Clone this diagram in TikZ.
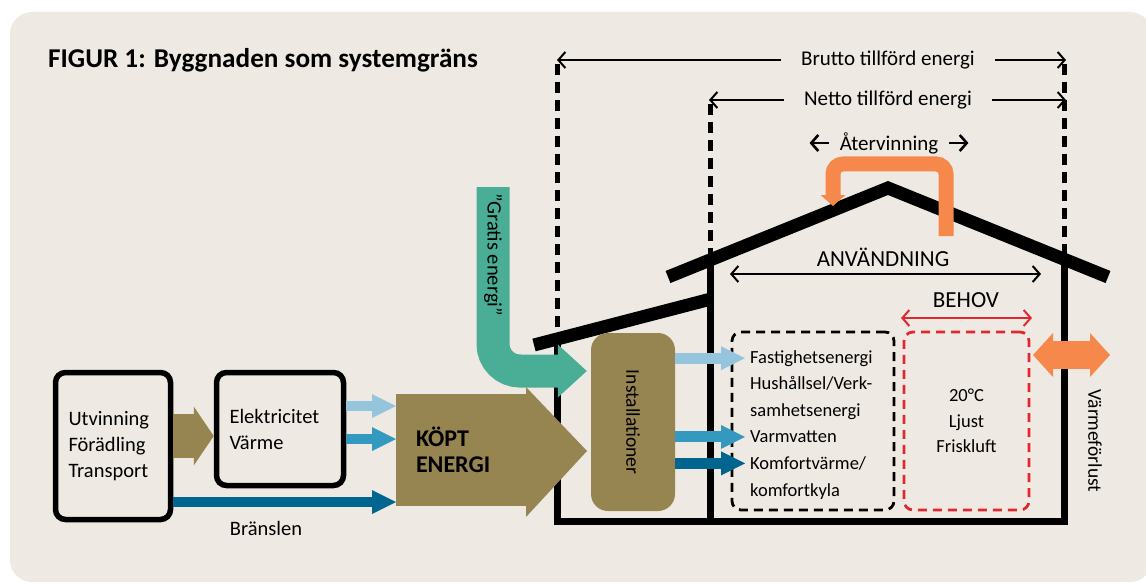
\documentclass[tikz,border=0pt]{standalone}
\usepackage{fontspec}
\setmainfont{Carlito}
\usetikzlibrary{arrows.meta,positioning}

\definecolor{paper}{HTML}{EEEAE3}
\definecolor{olive}{HTML}{978551}
\definecolor{gratis}{HTML}{4AAE97}
\definecolor{heat}{HTML}{F5884A}
\definecolor{blueA}{HTML}{95C5DD}
\definecolor{blueB}{HTML}{3499BF}
\definecolor{blueC}{HTML}{006690}
\definecolor{behovred}{HTML}{E1282F}

\tikzset{
  txt/.style={font=\fontsize{18.5}{25.5}\selectfont, inner sep=0pt},
  chaintxt/.style={font=\fontsize{20.5}{26}\selectfont},
  toptxt/.style={font=\fontsize{21}{24}\selectfont, inner ysep=0pt, inner xsep=20pt},
  captxt/.style={font=\fontsize{23}{24}\selectfont, inner sep=0pt},
  chainbox/.style={draw, line width=5.5pt, rounded corners=10pt, align=left,
    inner xsep=13pt, text width=#1, chaintxt},
  wall/.style={line width=7pt},
  roof/.style={line width=13pt},
  bound/.style={line width=5pt, dash pattern=on 11pt off 7pt},
  dim/.style={line width=2pt},
  feed/.style={line width=10pt, -{Triangle[width=24pt,length=24pt,line width=0pt]}},
  supply/.style={line width=11pt, -{Triangle[width=24pt,length=24pt,line width=0pt]}},
}

\begin{document}
\begin{tikzpicture}[x=1pt, y=-1pt, >={Straight Barb[length=7pt,width=16pt]}]
  \useasboundingbox (0,0) rectangle (1146,583);
  % Background
  \fill[paper, rounded corners=22pt] (10,12) rectangle (1152,582);

  % Title
  \node[anchor=west, inner sep=0pt, font=\bfseries\fontsize{27.2}{29}\selectfont] (title) at (48,60)
    {FIGUR 1: Byggnaden som systemgräns};

  % System boundaries
  \coordinate (bruttoL) at (557,60);
  \coordinate (bruttoR) at (1066,60);
  \coordinate (nettoL) at (709,100);
  \coordinate (nettoR) at (1066,100);
  \draw[bound] (557,64) -- (557,345);
  \draw[bound] (710,104) -- (710,262);
  \draw[bound] (1064,64) -- (1064,262);

  \node[toptxt] (brutto) at (888,60) {Brutto tillförd energi};
  \draw[dim, ->] (brutto.west) -- (bruttoL);
  \draw[dim, ->] (brutto.east) -- (bruttoR);
  \node[toptxt] (netto) at (888,100) {Netto tillförd energi};
  \draw[dim, ->] (netto.west) -- (nettoL);
  \draw[dim, ->] (netto.east) -- (nettoR);

  % Roofs and walls
  \draw[roof] (668,277) -- (888,188) -- (1108,277);
  \draw[roof] (534,345) -- (711,299);
  \draw[wall] (557,339) -- (557,521) -- (1064,521) -- (1064,258);
  \draw[wall] (710,259) -- (710,521);

  % Recovery
  \node[font=\fontsize{21}{24}\selectfont, inner ysep=0pt, inner xsep=11pt] (aterv) at (889,143) {Återvinning};
  \draw[dim, line width=2.6pt, ->] (aterv.west) -- ++(-19,0);
  \draw[dim, line width=2.6pt, ->] (aterv.east) -- ++(19,0);
  \draw[heat, line width=15pt, rounded corners=10pt, -{Triangle[width=25pt,length=11pt,line width=0pt]}]
    (946,236) -- (946,164) -- (833,164) -- (833,206);

  % Use and need
  \node[captxt] (anv) at (883,257) {ANVÄNDNING};
  \coordinate (anvL) at (730,274);
  \coordinate (anvR) at (1041,274);
  \draw[dim, <->] (anvL) -- (anvR);
  \node[captxt] (behov) at (966,300) {BEHOV};
  \coordinate (behovL) at (901,318);
  \coordinate (behovR) at (1032,318);
  \draw[dim, behovred, <->] (behovL) -- (behovR);

  \node[draw, line width=2.8pt, dash pattern=on 9pt off 6pt, rounded corners=9pt,
    minimum width=162, minimum height=178] (use) at (813,421) {};
  \foreach \t [count=\i] in {Fastighetsenergi, Hushållsel/Verk-, samhetsenergi,
      Varmvatten, Komfortvärme/, komfortkyla}
    \node[txt, anchor=base west] (item\i) at (750,{363+(\i-1)*26.6}) {\t};

  \node[draw=behovred, line width=2.8pt, dash pattern=on 9pt off 6pt, rounded corners=9pt,
    minimum width=125, minimum height=178] (need) at (966.5,421) {};
  \node[txt, align=center] (needtxt) at (need.center) {20°C\\Ljust\\Friskluft};

  % Heat loss
  \coordinate (lossL) at (1033,355);
  \coordinate (lossR) at (1110,355);
  \draw[heat, line width=28pt, {Triangle[width=44pt,length=20pt,line width=0pt]}-{Triangle[width=44pt,length=20pt,line width=0pt]}]
    (lossL) -- (lossR);
  \node[txt, rotate=-90, font=\fontsize{19.5}{24}\selectfont] (loss) at (1095,441) {Värmeförlust};

  % Installations
  \node[fill=olive, rounded corners=17pt, minimum width=84, minimum height=178, inner sep=0pt] (inst) at (633,422) {};
  \node[txt, rotate=-90, font=\fontsize{19.5}{24}\selectfont] (insttxt) at (inst.center) {Installationer};
  \draw[supply, blueA] (inst.east |- item1.west) -- ([xshift=-5pt]item1.west);
  \draw[supply, blueB] (inst.east |- item4.west) -- ([xshift=-5pt]item4.west);
  \draw[supply, blueC] (inst.east |- item5.west) -- ([xshift=-5pt]item5.west);

  % Bought energy
  \node[fill=olive, anchor=west, outer sep=0pt, minimum height=112, text width=91, inner xsep=20pt,
    align=left, font=\bfseries\fontsize{24}{26}\selectfont] (kopt) at (396,450) {KÖPT\\ENERGI};
  \coordinate (koptTip) at (587,451);
  \fill[olive] ([shift={(-1pt,7pt)}]kopt.north east) -- (koptTip) -- ([shift={(-1pt,-11pt)}]kopt.south east) -- cycle;

  % Free energy
  \draw[gratis, line width=33pt, rounded corners=27pt, -{Triangle[width=53pt,length=29pt,line width=0pt]}]
    (493,187) -- (493,371) -- ([xshift=-4pt]inst.west |- 0,371);
  \node[txt, rotate=-90, font=\fontsize{20.5}{24}\selectfont] (gratistxt) at (493,255) {"Gratis energi"};

  % Supply chain
  \node[chainbox=89pt, minimum width=115, minimum height=147] (utv) at (113,446) {Utvinning\\Förädling\\Transport};
  \node[chainbox=101pt, minimum width=127, minimum height=113] (el) at (280,429) {Elektricitet\\Värme};
  \draw[olive, line width=44pt, -{Triangle[width=59pt,length=20pt,line width=0pt]}] (utv.east |- 0,436) -- (el.west |- 0,436);
  \draw[feed, blueA] (el.east |- 0,406) -- (kopt.west |- 0,406);
  \draw[feed, blueB] (el.east |- 0,439) -- (kopt.west |- 0,439);
  \draw[feed, blueC] (utv.east |- 0,502) -- (kopt.west |- 0,502);
  \node[chaintxt, inner sep=0pt] (fuel) at (266,528) {Bränslen};
\end{tikzpicture}
\end{document}
